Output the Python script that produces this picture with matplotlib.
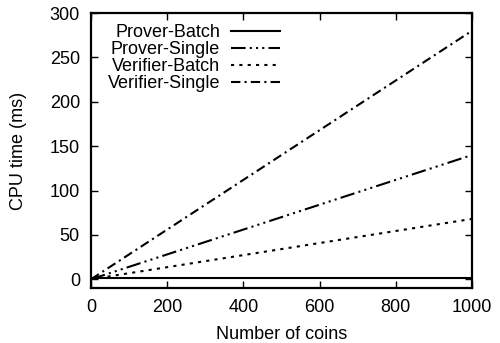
import matplotlib
matplotlib.use("Agg")
import matplotlib.pyplot as plt

# Data
coins = [0, 100, 200, 300, 400, 500, 600, 700, 800, 900, 1000]
prover_batch = [1, 1, 1, 1, 1, 1, 1, 1, 1, 1, 1]
prover_single = [0, 14, 28, 42, 56, 70, 84, 98, 112, 126, 140]
verifier_batch = [0, 6.8, 13.6, 20.4, 27.2, 34, 40.8, 47.6, 54.4, 61.2, 68]
verifier_single = [0, 28, 56, 84, 112, 140, 168, 196, 224, 252, 280]

plt.rcParams['font.family'] = ['Liberation Sans', 'DejaVu Sans']

fig = plt.figure(figsize=(5, 3.43), dpi=100)
ax = fig.add_axes([0.182, 0.160, 0.762, 0.802])

lw = 1.5
ax.plot(coins, prover_batch, color='black', lw=lw, linestyle='-', label='Prover-Batch')
ax.plot(coins, prover_single, color='black', lw=lw, linestyle=(0, (7, 2, 1, 2, 1, 2, 1, 2)), label='Prover-Single')
ax.plot(coins, verifier_batch, color='black', lw=lw, linestyle=(0, (1.5, 2.5)), label='Verifier-Batch')
ax.plot(coins, verifier_single, color='black', lw=lw, linestyle=(0, (4.5, 2, 1, 2)), label='Verifier-Single')

ax.set_xlim(0, 1000)
ax.set_ylim(-10, 300)
ax.set_xticks([0, 200, 400, 600, 800, 1000])
ax.set_yticks([0, 50, 100, 150, 200, 250, 300])
ax.tick_params(direction='in', top=True, right=True, labelsize=13, length=5, width=1, pad=8)
for s in ax.spines.values():
    s.set_linewidth(1.6)

ax.set_xlabel('Number of coins', fontsize=13, labelpad=7)
ax.set_ylabel('CPU time (ms)', fontsize=13, labelpad=16)

leg = ax.legend(loc='upper left', bbox_to_anchor=(0.015, 1.0), markerfirst=False, frameon=False,
                fontsize=13, handlelength=2.7, labelspacing=0.0, borderaxespad=0.2, handletextpad=0.6)
for t in leg.get_texts():
    t.set_ha('right')
leg._legend_box.align = 'right'

fig.savefig('out.png')
